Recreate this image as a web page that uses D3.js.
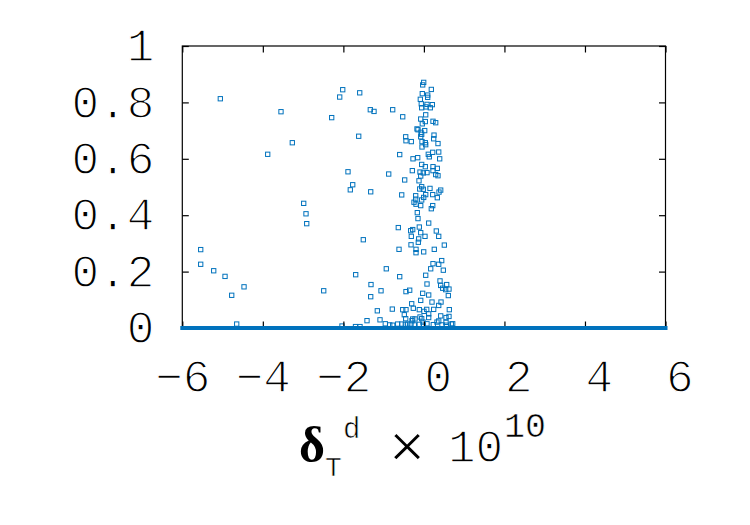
<!DOCTYPE html>
<html>
<head>
<meta charset="utf-8">
<script src="https://cdn.jsdelivr.net/npm/d3@7"></script>
<style>
  html, body { margin: 0; padding: 0; background: #fff; }
  svg { display: block; }
  .thin { stroke: #fff; stroke-width: 1.4px; paint-order: fill stroke; }
  .thin-s { stroke: #fff; stroke-width: 0.6px; paint-order: fill stroke; }
</style>
</head>
<body>
<svg id="chart" width="750" height="525"></svg>
<script>
// ---- data ----
const xTicks = [-6, -4, -2, 0, 2, 4, 6];
const yTicks = [0, 0.2, 0.4, 0.6, 0.8, 1];
const xDomain = [-6, 6];
const yDomain = [0, 1];

const pointsX = [
  -5.056,-3.549,-3.268,-3.879,-2.985,-2.928,-2.910,-5.543,-5.543,-5.220,
  -4.939,-4.467,-4.773,-4.649,-2.488,-2.091,-2.016,-2.290,-1.594,-1.331,
  -1.619,-1.885,-1.768,-1.828,-1.321,-1.505,-1.694,-1.314,-1.321,-1.413,
  -2.034,-1.699,-1.587,
  -0.005,-0.030,0.184,-0.040,0.094,0.094,-0.089,-0.065,0.077,0.209,
  -0.055,0.052,0.159,-1.239,-0.775,-0.526,0.045,-0.079,-0.040,0.035,
  0.226,0.293,-0.171,-0.147,-0.072,0.020,-0.055,0.251,0.243,-0.079,
  -0.452,-0.445,-0.313,-0.047,0.035,0.045,0.350,-0.047,-0.601,-0.271,
  -0.154,0.109,0.134,0.219,0.368,0.392,-0.055,
  0.035,0.226,0.333,0.226,-0.288,-0.097,-0.015,0.077,-0.874,-0.079,
  0.293,0.350,-0.477,-0.122,-0.055,-0.104,-0.015,0.151,0.417,0.375,
  -0.551,-0.204,0.045,0.219,-0.005,0.333,-0.204,-0.055,-0.246,-0.196,
  -0.079,0.219,0.184,-0.164,-0.147,0.119,-0.636,-0.114,-0.328,-0.278,
  -0.079,0.308,-0.313,0.027,0.368,-0.129,-0.139,0.507,-0.320,-0.618,
  -0.196,0.258,
  -0.196,-0.005,0.226,0.368,0.442,0.169,0.482,-0.934,-0.601,0.045,
  0.400,0.077,0.417,0.566,0.467,0.541,0.623,-1.065,-0.445,-0.353,
  -0.030,0.119,0.606,-0.079,0.201,0.425,-0.303,0.368,-0.785,-0.526,
  -0.445,-0.263,-0.114,0.070,0.243,0.631,-1.157,0.002,-0.487,0.119,
  0.417,0.549,0.623,-1.090,-0.452,-0.278,-0.221,-0.097,-0.055,0.119,
  -0.296,0.368,0.325,-0.022,0.549,-0.959,-0.651,-0.551,-0.462,-0.402,
  -0.320,-0.114,0.077,0.680,-0.849,-0.775,-0.238,-0.015,0.233,0.449,
  0.556,0.715
];
const pointsY = [
  0.813,0.767,0.657,0.616,0.442,0.405,0.370,0.278,0.226,0.203,
  0.183,0.146,0.116,0.014,0.132,0.819,0.845,0.746,0.834,0.774,
  0.680,0.554,0.508,0.490,0.483,0.313,0.189,0.154,0.111,0.026,
  0.007,0.005,0.005,
  0.871,0.862,0.846,0.831,0.826,0.818,0.811,0.795,0.793,0.792,
  0.781,0.784,0.781,0.768,0.774,0.749,0.756,0.741,0.724,0.732,
  0.733,0.728,0.706,0.703,0.694,0.700,0.687,0.684,0.671,0.678,
  0.678,0.664,0.661,0.661,0.657,0.650,0.654,0.642,0.615,0.600,
  0.604,0.616,0.607,0.623,0.624,0.600,0.580,
  0.572,0.572,0.566,0.558,0.558,0.553,0.550,0.551,0.546,0.539,
  0.544,0.540,0.525,0.522,0.501,0.493,0.492,0.495,0.489,0.482,
  0.472,0.469,0.473,0.473,0.463,0.462,0.457,0.454,0.446,0.439,
  0.434,0.434,0.423,0.409,0.388,0.372,0.356,0.358,0.345,0.349,
  0.338,0.344,0.325,0.325,0.325,0.316,0.304,0.294,0.295,0.279,
  0.279,0.279,
  0.267,0.270,0.228,0.226,0.239,0.210,0.205,0.210,0.182,0.187,
  0.167,0.156,0.151,0.154,0.141,0.136,0.138,0.132,0.129,0.134,
  0.123,0.117,0.115,0.098,0.092,0.092,0.086,0.080,0.067,0.065,
  0.065,0.070,0.065,0.066,0.066,0.065,0.061,0.059,0.047,0.050,
  0.043,0.037,0.041,0.029,0.033,0.032,0.032,0.039,0.033,0.037,
  0.026,0.025,0.021,0.021,0.020,0.015,0.014,0.014,0.013,0.014,
  0.014,0.013,0.015,0.014,0.011,0.010,0.011,0.010,0.012,0.011,
  0.010,0.015
];
const baselineX = [-6, 6];
const baselineY = [0, 0];

// ---- layout ----
const svg = d3.select("#chart");
const pLeft = 182.3, pRight = 665.5, pTop = 46, pBottom = 328;
const blue = "#0072BD";
const mono = "'Liberation Mono', 'Courier New', monospace";

const x = d3.scaleLinear().domain(xDomain).range([pLeft, pRight]);
const y = d3.scaleLinear().domain(yDomain).range([pBottom, pTop]);

// markers
const pts = pointsX.map((v, i) => ({ x: v, y: pointsY[i] }));
const ms = 4.3;
svg.append("g").selectAll("rect").data(pts).join("rect")
  .attr("x", d => x(d.x) - ms / 2)
  .attr("y", d => y(d.y) - ms / 2)
  .attr("width", ms).attr("height", ms)
  .attr("fill", "none").attr("stroke", blue).attr("stroke-width", 1);

// axes box and inward ticks
const tl = 6.5;
function styleTicks(g) {
  g.select(".domain").remove();
  g.selectAll(".tick line").attr("stroke", "#000").attr("stroke-width", 1.2);
  g.selectAll(".tick text").remove();
}
svg.append("g").attr("transform", `translate(0,${pBottom})`)
  .call(d3.axisBottom(x).tickValues(xTicks).tickSize(-tl)).call(styleTicks);
svg.append("g").attr("transform", `translate(0,${pTop})`)
  .call(d3.axisTop(x).tickValues(xTicks).tickSize(-tl)).call(styleTicks);
svg.append("g").attr("transform", `translate(${pLeft},0)`)
  .call(d3.axisLeft(y).tickValues(yTicks).tickSize(-tl)).call(styleTicks);
svg.append("g").attr("transform", `translate(${pRight},0)`)
  .call(d3.axisRight(y).tickValues(yTicks).tickSize(-tl)).call(styleTicks);

svg.append("rect")
  .attr("x", pLeft).attr("y", pTop)
  .attr("width", pRight - pLeft).attr("height", pBottom - pTop)
  .attr("fill", "none").attr("stroke", "#000").attr("stroke-width", 1.2);

// baseline at y = 0
svg.append("line")
  .attr("x1", x(baselineX[0])).attr("x2", x(baselineX[1]))
  .attr("y1", y(baselineY[0])).attr("y2", y(baselineY[1]))
  .attr("stroke", blue).attr("stroke-width", 4).attr("stroke-linecap", "square");

// tick labels
const fs = 46;
const gxl = svg.append("g").attr("transform", `translate(0,${pBottom})`)
  .call(d3.axisBottom(x).tickValues(xTicks).tickSize(0).tickPadding(31)
    .tickFormat(d => (d < 0 ? "\u2212" : "\u00A0") + Math.abs(d)));
gxl.select(".domain").remove();
gxl.selectAll("text").attr("class", "thin")
  .attr("font-family", mono).attr("font-size", fs).attr("fill", "#000");

const gyl = svg.append("g").attr("transform", `translate(${pLeft},0)`)
  .call(d3.axisLeft(y).tickValues(yTicks).tickSize(0).tickPadding(28)
    .tickFormat(d => String(+d.toFixed(1))));
gyl.select(".domain").remove();
gyl.selectAll("text").attr("class", "thin")
  .attr("font-family", mono).attr("font-size", fs).attr("fill", "#000");

// x label: δ_T^d × 10^10
const xl = svg.append("g");
xl.append("text").attr("x", 299).attr("y", 461.5)
  .attr("font-family", "'Liberation Serif', 'Times New Roman', serif")
  .attr("font-weight", "bold").attr("font-size", 50).text("δ");
xl.append("text").attr("x", 325).attr("y", 476).attr("class", "thin-s")
  .attr("font-family", mono).attr("font-size", 28).text("T");
xl.append("text").attr("x", 343).attr("y", 438).attr("class", "thin-s")
  .attr("font-family", mono).attr("font-size", 29).text("d");
xl.append("text").attr("x", 407).attr("y", 467).attr("text-anchor", "middle").attr("class", "thin")
  .attr("font-family", mono).attr("font-size", 62).text("×");
xl.append("text").attr("x", 448).attr("y", 461.5).attr("class", "thin")
  .attr("font-family", mono).attr("font-size", 46).text("10");
xl.append("text").attr("x", 504).attr("y", 436.5).attr("class", "thin-s")
  .attr("font-family", mono).attr("font-size", 35).text("10");
</script>
</body>
</html>
